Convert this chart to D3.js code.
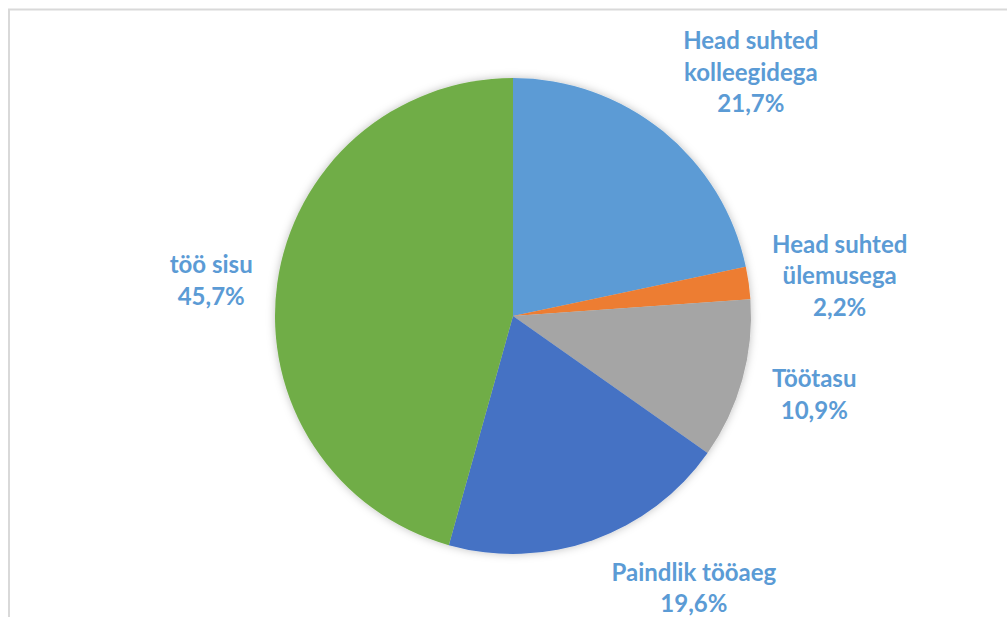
<!DOCTYPE html>
<html>
<head>
<meta charset="utf-8">
<script src="https://cdn.jsdelivr.net/npm/d3@7"></script>
<style>
  html, body { margin: 0; padding: 0; background: #ffffff; }
  svg { display: block; }
</style>
</head>
<body>
<script>
// Data
const categories = ["Head suhted kolleegidega", "Head suhted ülemusega", "Töötasu", "Paindlik tööaeg", "töö sisu"];
const labelLines = [["Head suhted", "kolleegidega"], ["Head suhted", "ülemusega"], ["Töötasu"], ["Paindlik tööaeg"], ["töö sisu"]];
const values = [21.7, 2.2, 10.9, 19.6, 45.7];
const valueLabels = ["21,7%", "2,2%", "10,9%", "19,6%", "45,7%"];
const colors = ["#5b9bd5", "#ed7d31", "#a5a5a5", "#4472c4", "#70ad47"];

// Layout (not data)
const W = 1007, H = 617;
const cx = 513, cy = 316, R = 238;
const labelOffsets = [[88, -59], [91, -7], [72, 15], [101, 48], [-66, -3]];
const lineH = 31.5;

const svg = d3.select("body").append("svg").attr("width", W).attr("height", H);

const defs = svg.append("defs");
const f = defs.append("filter").attr("id", "sh").attr("x", "-20%").attr("y", "-20%").attr("width", "140%").attr("height", "140%");
f.append("feDropShadow").attr("dx", 0).attr("dy", 0).attr("stdDeviation", 4)
  .attr("flood-color", "#000").attr("flood-opacity", 0.25);

// chart frame
svg.append("rect").attr("x", 9).attr("y", 9.5).attr("width", W + 20).attr("height", H + 20)
  .attr("fill", "#fff").attr("stroke", "#d9d9d9").attr("stroke-width", 2);

const pie = d3.pie().sort(null).value(d => d)(values);
const arc = d3.arc().innerRadius(0).outerRadius(R);

const g = svg.append("g").attr("transform", `translate(${cx},${cy})`);
g.append("g").attr("filter", "url(#sh)")
  .selectAll("path").data(pie).enter().append("path")
  .attr("d", arc)
  .attr("fill", (d, i) => colors[i])
  .attr("stroke", "#fff").attr("stroke-width", 0);

const labelArc = d3.arc().innerRadius(R).outerRadius(R);
pie.forEach((d, i) => {
  const c = labelArc.centroid(d);
  const lx = c[0] + labelOffsets[i][0];
  const ly = c[1] + labelOffsets[i][1];
  const lines = labelLines[i].concat([valueLabels[i]]);
  const n = lines.length;
  const t = g.append("text")
    .attr("text-anchor", "middle")
    .attr("font-family", "Lato, 'Open Sans', sans-serif")
    .attr("font-weight", "bold")
    .attr("font-size", 24)
    .attr("fill", "#5b9bd5");
  lines.forEach((ln, k) => {
    t.append("tspan").attr("x", lx)
      .attr("y", ly + (k - (n - 1) / 2) * lineH)
      .attr("dy", "0.35em")
      .text(ln);
  });
});
</script>
</body>
</html>
